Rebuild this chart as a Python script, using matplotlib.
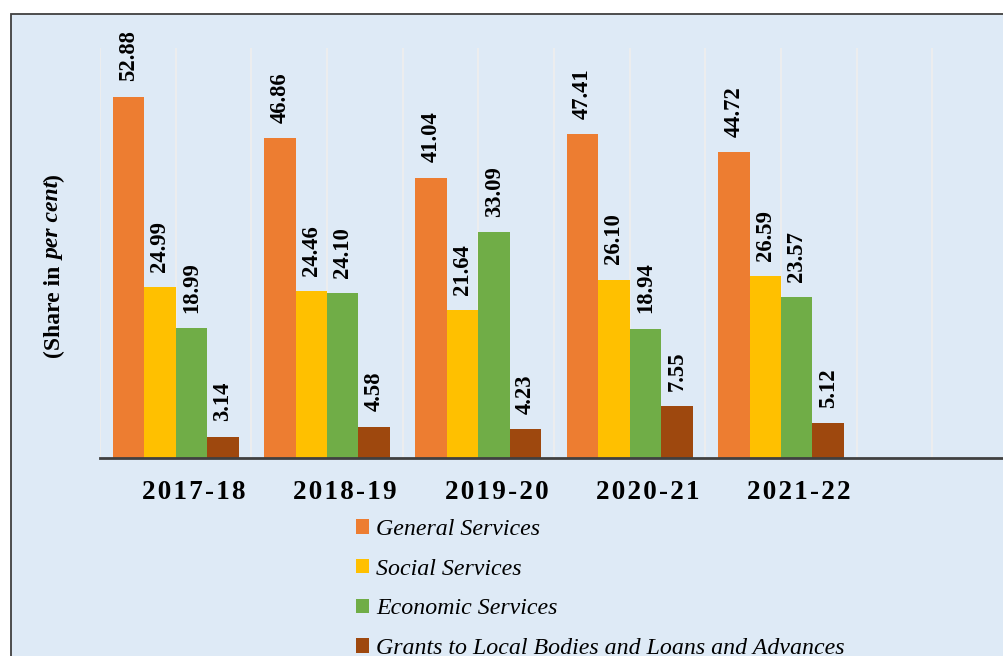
import matplotlib
matplotlib.use("Agg")
import matplotlib.pyplot as plt
import matplotlib.transforms as mtransforms
from matplotlib.patches import Rectangle
import numpy as np

years = ["2017-18", "2018-19", "2019-20", "2020-21", "2021-22"]
series_names = ["General Services", "Social Services", "Economic Services",
                "Grants to Local Bodies and Loans and Advances"]
general = [52.88, 46.86, 41.04, 47.41, 44.72]
social = [24.99, 24.46, 21.64, 26.10, 26.59]
economic = [18.99, 24.10, 33.09, 18.94, 23.57]
grants = [3.14, 4.58, 4.23, 7.55, 5.12]
colors = ["#ED7D31", "#FFC000", "#70AD47", "#9E480E"]

W, H = 1004, 656
fig = plt.figure(figsize=(W / 100, H / 100), dpi=100)
fig.patch.set_facecolor("white")
bg = "#DEEAF6"
fig.patches.append(Rectangle((11 / W, -0.1), 1.2, (H - 14) / H + 0.1,
                             transform=fig.transFigure, facecolor=bg,
                             edgecolor="#404040", linewidth=1.3, zorder=-5))

left, right, top, base = 100, 1008, 48, 458
ax = fig.add_axes([left / W, (H - base) / H, (right - left) / W, (base - top) / H])
ax.set_facecolor("none")
ncat = 6
ax.set_xlim(-0.5, ncat - 0.5)
ax.set_ylim(0, 60)

for k in np.arange(-0.5, ncat - 0.4, 0.5):
    ax.axvline(k, color="#EEEEEE", linewidth=1.3, zorder=1)

x = np.arange(len(years))
bw = 0.208
all_series = [general, social, economic, grants]
handles = []
for i, (vals, c) in enumerate(zip(all_series, colors)):
    pos = x + (i - 1.5) * bw
    b = ax.bar(pos, vals, width=bw, color=c, zorder=2, label=series_names[i])
    handles.append(b)
    for p, v in zip(pos, vals):
        ax.annotate(f"{v:.2f}", xy=(p, v), xytext=(0, 11), textcoords="offset points",
                    rotation=90, ha="center", va="bottom", fontsize=16.3,
                    fontweight="bold", family="Liberation Serif", zorder=3)

for s in ["top", "left", "right"]:
    ax.spines[s].set_visible(False)
ax.spines["bottom"].set_color("#404040")
ax.spines["bottom"].set_linewidth(2)
ax.spines["bottom"].set_zorder(4)
ax.set_yticks([])
ax.set_xticks(x)
spaced = ["\u200a".join(list(y)) for y in years]
ax.set_xticklabels(spaced, fontsize=19.5, fontweight="bold", family="Liberation Serif")
ax.tick_params(axis="x", length=0, pad=16)
shift = mtransforms.ScaledTranslation(18 / 100, 0, fig.dpi_scale_trans)
for lab in ax.get_xticklabels():
    lab.set_transform(lab.get_transform() + shift)

# y label with italic part
ylx = 54 / W
t1 = fig.text(ylx, 1 - 358 / H, "(Share in ", rotation=90, ha="center", va="bottom",
              fontsize=17, fontweight="bold", family="Liberation Serif")
t2 = fig.text(0, 0, "per cent", rotation=90, ha="center", va="bottom",
              fontsize=17, fontweight="bold", style="italic", family="Liberation Serif")
t3 = fig.text(0, 0, ")", rotation=90, ha="center", va="bottom",
              fontsize=17, fontweight="bold", family="Liberation Serif")
fig.canvas.draw()
r = fig.canvas.get_renderer()
bb1 = t1.get_window_extent(r)
t2.set_position((ylx, bb1.y1 / H))
bb2 = t2.get_window_extent(r)
t3.set_position((ylx, bb2.y1 / H))

leg = fig.legend(handles=handles, labels=series_names, loc="upper left",
                 bbox_to_anchor=(356 / W, 1 - 519 / H), frameon=False,
                 prop={"family": "Liberation Serif", "style": "italic", "size": 17.2},
                 handlelength=0.55, handleheight=0.55, handletextpad=0.3,
                 labelspacing=0.78, borderpad=0, borderaxespad=0)

fig.savefig("out.png", dpi=100, facecolor=fig.get_facecolor())
